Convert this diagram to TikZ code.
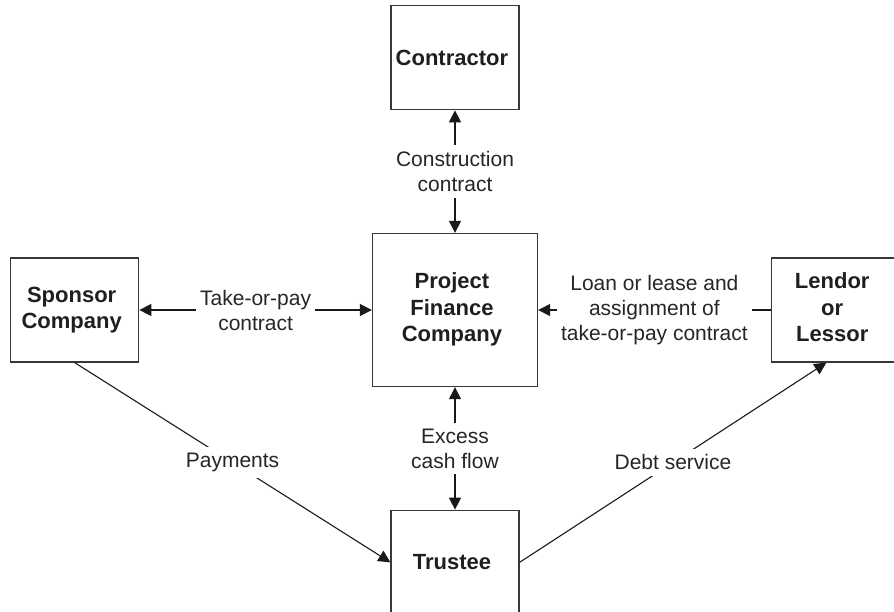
\documentclass[tikz,border=0pt]{standalone}
\usepackage{fontspec}
\setmainfont{Liberation Sans}
\usetikzlibrary{matrix,arrows.meta}

\newcommand{\boxtext}[1]{\begin{tabular}{@{}c@{}}#1\end{tabular}}

\tikzset{
  party/.style={draw=black!78, line width=1.3pt, minimum width=128pt, minimum height=104pt,
    align=center, inner sep=0pt, text=black!88, font=\fontsize{22}{26.5}\selectfont\bfseries},
  hub/.style={party, minimum width=165pt, minimum height=153pt},
  deal/.style={fill=white, align=center, inner xsep=4pt, inner ysep=6pt, text=black!85,
    font=\fontsize{21}{25}\selectfont},
  flow/.style={line width=1.1pt, black!90},
}

\begin{document}
\begin{tikzpicture}[x=1pt, y=1pt, >={Triangle[length=12pt,width=12pt]}]
  \useasboundingbox (0,0) rectangle (894,-611);
  \matrix (m) [matrix of nodes, row sep=122.5pt, column sep=232.5pt, nodes={party, anchor=center}] at (455,-310)
  {
  & Contractor & \\
  \boxtext{Sponsor\\Company} & |[hub]| \boxtext{Project\\Finance\\Company} &[6pt] \boxtext{Lendor\\or\\Lessor} \\
  & Trustee & \\
  };
  \path[->, flow]
  (m-1-2) edge[<->] node[deal] {Construction\\contract} (m-2-2)
  (m-2-1) edge[<->] node[deal] {Take-or-pay\\contract} (m-2-2)
  (m-2-3) edge node[deal] {Loan or lease and\\assignment of\\take-or-pay contract} (m-2-2)
  (m-2-2) edge[<->] node[deal] {Excess\\cash flow} (m-3-2)
  (m-2-1.south) edge node[deal] {Payments} (m-3-2.west)
  (m-3-2.east) edge node[deal] {Debt service} ([xshift=-9pt]m-2-3.south)
  ;
\end{tikzpicture}
\end{document}
